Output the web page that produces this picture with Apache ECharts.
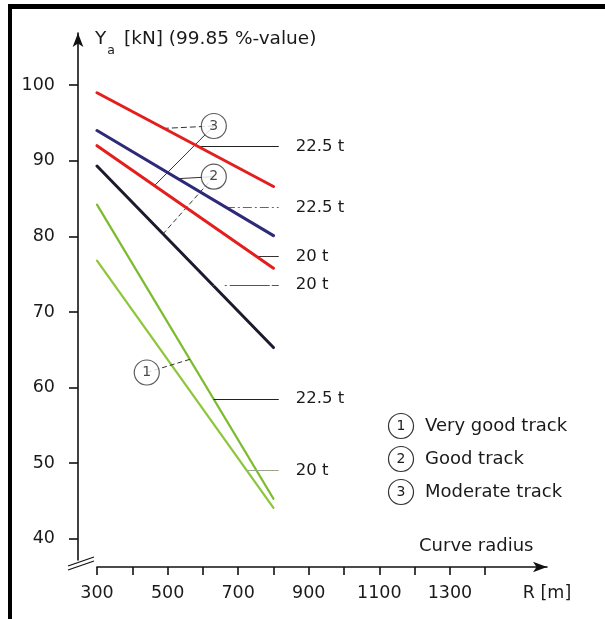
<!DOCTYPE html>
<html>
<head>
<meta charset="utf-8">
<script src="https://cdn.jsdelivr.net/npm/echarts@6/dist/echarts.min.js"></script>
<style>
  html, body { margin: 0; padding: 0; background: #fff; }
  #chart { width: 605px; height: 619px; }
</style>
</head>
<body>
<div id="chart"></div>
<script>
// Curve radius range covered by every line (m)
const radius = [300, 800];

// Lateral force Ya [kN] at 300 m and 800 m
const moderate225 = [99.0, 86.6];
const good225 = [94.0, 80.1];
const moderate20 = [92.0, 75.8];
const good20 = [89.3, 65.3];
const veryGood225 = [84.2, 45.3];
const veryGood20 = [76.8, 44.1];

// Axis ticks and labels
const xTicks = [300, 400, 500, 600, 700, 800, 900, 1000, 1100, 1200, 1300, 1400];
const xLabels = [300, 500, 700, 900, 1100, 1300];
const yTicks = [40, 50, 60, 70, 80, 90, 100];

// Track quality legend
const trackNames = ['Very good track', 'Good track', 'Moderate track'];

const FONT = 'DejaVu Sans';
const INK = '#1a1a1a';

const lines = [
  { key: 'vg20',  values: veryGood20,  color: '#8cc63a', width: 2.2 },
  { key: 'vg225', values: veryGood225, color: '#7bbb2c', width: 2.2 },
  { key: 'g20',   values: good20,      color: '#1c1a2e', width: 3 },
  { key: 'm20',   values: moderate20,  color: '#e41e1c', width: 3 },
  { key: 'g225',  values: good225,     color: '#2e2a78', width: 3 },
  { key: 'm225',  values: moderate225, color: '#e41e1c', width: 3 }
];

// Axle-load tags: leader leaves the line at radius `from` and runs right
const tagEnd = 815;
const weightTags = [
  { key: 'm225',  text: '22.5 t', from: 587, dash: 'solid',         color: '#222' },
  { key: 'g225',  text: '22.5 t', from: 665, dash: [9, 3, 2, 3],    color: '#666' },
  { key: 'm20',   text: '20 t',   from: 752, dash: 'solid',         color: '#333' },
  { key: 'g20',   text: '20 t',   from: 628, dash: [2, 10, 2, 3, 40], color: '#555' },
  { key: 'vg225', text: '22.5 t', from: 630, dash: 'solid',         color: '#222' },
  { key: 'vg20',  text: '20 t',   from: 724, dash: 'solid',         color: '#9aa88a' }
];

// Circled track-quality markers and the lines they point to
const callouts = [
  { num: '3', at: [631, 94.6], links: [{ key: 'm225', r: 490, dash: [6, 3] }, { key: 'm20', r: 463, dash: 'solid' }] },
  { num: '2', at: [631, 87.9], links: [{ key: 'g225', r: 529, dash: 'solid' }, { key: 'g20', r: 487, dash: [5, 3] }] },
  { num: '1', at: [441, 62.0], links: [{ key: 'vg225', r: 563, dash: [5, 3] }] }
];

function valueAt(values, r) {
  return values[0] + (values[1] - values[0]) * (r - radius[0]) / (radius[1] - radius[0]);
}

function markLinesFor(line) {
  const data = [];
  weightTags.filter(t => t.key === line.key).forEach(t => {
    const v = valueAt(line.values, t.from);
    data.push([
      { coord: [t.from, v],
        lineStyle: { type: t.dash, color: t.color, width: 1 },
        label: { show: true, position: 'end', formatter: t.text, distance: 17,
                 color: INK, fontSize: 16.5, fontFamily: FONT } },
      { coord: [tagEnd, v] }
    ]);
  });
  callouts.forEach(c => c.links.filter(l => l.key === line.key).forEach(l => {
    data.push([
      { coord: c.at, lineStyle: { type: l.dash, color: '#333', width: 1 }, label: { show: false } },
      { coord: [l.r, valueAt(line.values, l.r)] }
    ]);
  }));
  return { symbol: 'none', silent: true, animation: false, data };
}

const series = lines.map((line, i) => ({
  type: 'line',
  name: line.key,
  data: radius.map((r, j) => [r, line.values[j]]),
  showSymbol: false,
  lineStyle: { color: line.color, width: line.width, cap: 'round' },
  itemStyle: { color: line.color },
  z: 2 + i,
  markLine: markLinesFor(line)
}));

series.push({
  type: 'scatter',
  data: callouts.map(c => ({ value: c.at, label: { formatter: c.num } })),
  symbol: 'circle',
  symbolSize: 25,
  itemStyle: { color: '#fff', borderColor: '#333', borderWidth: 1.2 },
  label: { show: true, position: 'inside', color: INK, fontSize: 14, fontFamily: FONT },
  silent: true,
  z: 20
});

const legendGraphics = [];
trackNames.forEach((name, i) => {
  const cy = 426 + i * 33;
  legendGraphics.push({
    type: 'circle', shape: { cx: 401, cy: cy, r: 12.5 },
    style: { fill: '#fff', stroke: '#333', lineWidth: 1.2 }
  });
  legendGraphics.push({
    type: 'text', x: 401, y: cy,
    style: { text: String(i + 1), fill: INK, font: '14px "' + FONT + '"', align: 'center', verticalAlign: 'middle' }
  });
  legendGraphics.push({
    type: 'text', x: 425, y: cy,
    style: { text: name, fill: INK, font: '18px "' + FONT + '"', align: 'left', verticalAlign: 'middle' }
  });
});

const chart = echarts.init(document.getElementById('chart'), null, { renderer: 'canvas' });

chart.setOption({
  backgroundColor: '#fff',
  animation: false,
  grid: { left: 97, top: 33, width: 450, height: 527, containLabel: false },
  xAxis: {
    type: 'value', min: 300, max: 1575, offset: 7,
    axisLine: { show: true, symbol: ['none', 'arrow'], symbolSize: [8, 14], lineStyle: { color: '#111', width: 1.6 } },
    axisTick: { show: true, customValues: xTicks, length: 8, lineStyle: { color: '#111', width: 1.6 } },
    axisLabel: { customValues: xLabels, margin: 17, fontSize: 17.5, color: INK, fontFamily: FONT, formatter: v => String(v) },
    splitLine: { show: false },
    name: 'R [m]', nameLocation: 'end', nameGap: 0,
    nameTextStyle: { fontSize: 17.5, color: INK, fontFamily: FONT, align: 'center', verticalAlign: 'top', padding: [17, 0, 0, 0] }
  },
  yAxis: {
    type: 'value', min: 37.2, max: 106.9, offset: 19,
    axisLine: { show: true, symbol: ['none', 'arrow'], symbolSize: [8, 14], lineStyle: { color: '#111', width: 1.6 } },
    axisTick: { show: true, customValues: yTicks, length: 9, lineStyle: { color: '#111', width: 1.6 } },
    axisLabel: { customValues: yTicks, margin: 23, fontSize: 17.5, color: INK, fontFamily: FONT },
    splitLine: { show: false }
  },
  series: series,
  graphic: [
    // frame edges
    { type: 'rect', shape: { x: 8, y: 4, width: 4, height: 615 }, style: { fill: '#000' }, silent: true },
    { type: 'rect', shape: { x: 8, y: 4, width: 597, height: 5 }, style: { fill: '#000' }, silent: true },
    // axis break marks
    { type: 'line', shape: { x1: 68, y1: 566, x2: 94, y2: 557 }, style: { stroke: '#111', lineWidth: 1.2 } },
    { type: 'line', shape: { x1: 68, y1: 570, x2: 94, y2: 561 }, style: { stroke: '#111', lineWidth: 1.2 } },
    // axis titles
    {
      type: 'text', x: 95, y: 30,
      style: {
        text: '{b|Y}{s|a}{g|[kN] (99.85 %-value)}',
        rich: {
          b: { fontSize: 18.5, fontFamily: FONT, fill: INK, lineHeight: 21, verticalAlign: 'top' },
          g: { fontSize: 18.5, fontFamily: FONT, fill: INK, lineHeight: 21, verticalAlign: 'top', padding: [0, 0, 0, 9] },
          s: { fontSize: 12.5, fontFamily: FONT, fill: INK, lineHeight: 12, verticalAlign: 'top', padding: [14, 0, 0, 1] }
        }
      }
    },
    {
      type: 'text', x: 419, y: 546,
      style: { text: 'Curve radius', fill: INK, font: '18px "' + FONT + '"', align: 'left', verticalAlign: 'middle' }
    }
  ].concat(legendGraphics)
});
</script>
</body>
</html>
